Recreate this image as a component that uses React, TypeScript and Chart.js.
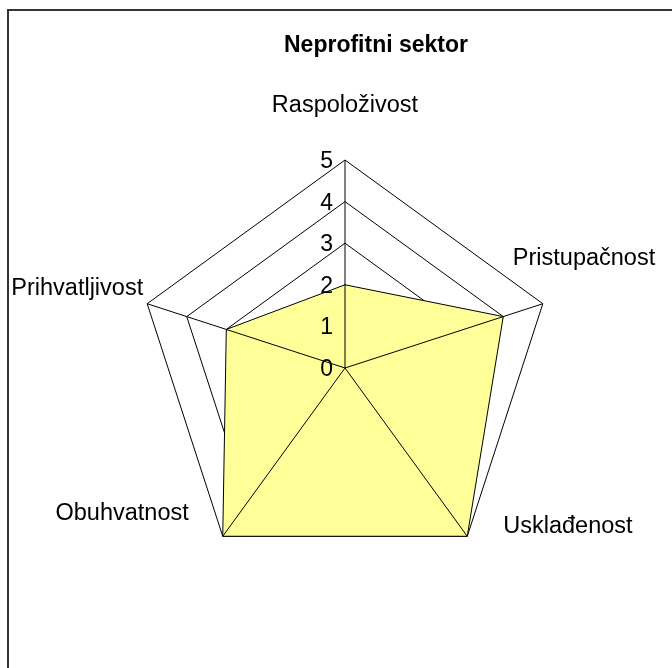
import React, { useEffect, useRef } from 'react';
import { Chart, registerables } from 'chart.js';

Chart.register(...registerables);

const chartTitle = 'Neprofitni sektor';
const categories = ['Raspoloživost', 'Pristupačnost', 'Usklađenost', 'Obuhvatnost', 'Prihvatljivost'];
const seriesValues = [2, 4, 5, 5, 3];
const tickValues = [0, 1, 2, 3, 4, 5];

const FONT = '"Liberation Sans", Arial, sans-serif';

// Label placement relative to each outer vertex (layout only)
const labelLayout = [
  { dx: 0, dy: -48, align: 'center' },
  { dx: -30, dy: -39, align: 'left' },
  { dx: 36, dy: -3, align: 'left' },
  { dx: -34, dy: -16, align: 'right' },
  { dx: -4, dy: -9, align: 'right' },
];

const overlayPlugin = {
  id: 'excelRadarOverlay',
  afterDatasetsDraw(chart: any) {
    const scale = chart.scales.r;
    const ctx = chart.ctx;
    ctx.save();
    ctx.strokeStyle = '#000';
    ctx.lineWidth = 1;
    ctx.beginPath();
    for (let i = 0; i < categories.length; i++) {
      const p = scale.getPointPosition(i, scale.drawingArea);
      ctx.moveTo(scale.xCenter, scale.yCenter);
      ctx.lineTo(p.x, p.y);
    }
    ctx.stroke();
    ctx.restore();
  },
  afterDraw(chart: any) {
    const scale = chart.scales.r;
    const ctx = chart.ctx;
    ctx.save();
    ctx.fillStyle = '#000';
    // tick labels
    ctx.font = `23px ${FONT}`;
    ctx.textAlign = 'right';
    ctx.textBaseline = 'alphabetic';
    tickValues.forEach((v) => {
      const p = scale.getPointPositionForValue(0, v);
      ctx.fillText(String(v), p.x - 12, p.y + 8);
    });
    // point labels
    ctx.font = `23.5px ${FONT}`;
    categories.forEach((label, i) => {
      const p = scale.getPointPosition(i, scale.drawingArea);
      const l = labelLayout[i];
      ctx.textAlign = l.align;
      ctx.fillText(label, p.x + l.dx, p.y + l.dy);
    });
    // title
    ctx.font = `bold 23px ${FONT}`;
    ctx.textAlign = 'center';
    ctx.fillText(chartTitle, 376, 52);
    ctx.restore();
  },
};

export default function App() {
  const canvasRef = useRef<HTMLCanvasElement | null>(null);

  useEffect(() => {
    const canvas = canvasRef.current;
    if (!canvas) return;
    const chart = new Chart(canvas, {
      type: 'radar',
      data: {
        labels: categories,
        datasets: [
          {
            label: chartTitle,
            data: seriesValues,
            backgroundColor: '#FFFF99',
            borderColor: '#000000',
            borderWidth: 1,
            pointRadius: 0,
            pointHoverRadius: 0,
            fill: true,
            tension: 0,
          },
        ],
      },
      options: {
        responsive: false,
        animation: false,
        devicePixelRatio: 1,
        layout: { padding: { left: 137, right: 119, top: 160, bottom: 92 } },
        plugins: {
          legend: { display: false },
          title: { display: false },
          tooltip: { enabled: false },
        },
        scales: {
          r: {
            min: 0,
            max: 5,
            ticks: { display: false, stepSize: 1 },
            grid: { color: '#000000', lineWidth: 1, circular: false },
            angleLines: { display: false },
            pointLabels: { display: false },
          },
        },
      },
      plugins: [overlayPlugin],
    });
    return () => chart.destroy();
  }, []);

  return (
    <div
      style={{
        position: 'fixed',
        left: 0,
        top: 0,
        width: 672,
        height: 668,
        overflow: 'hidden',
        background: '#fff',
      }}
    >
      <div
        style={{
          position: 'absolute',
          left: 7,
          top: 9,
          width: 900,
          height: 900,
          borderLeft: '2px solid #333',
          borderTop: '2px solid #333',
        }}
      />
      <canvas
        ref={canvasRef}
        width={672}
        height={668}
        style={{ position: 'absolute', left: 0, top: 0, width: 672, height: 668 }}
      />
    </div>
  );
}
